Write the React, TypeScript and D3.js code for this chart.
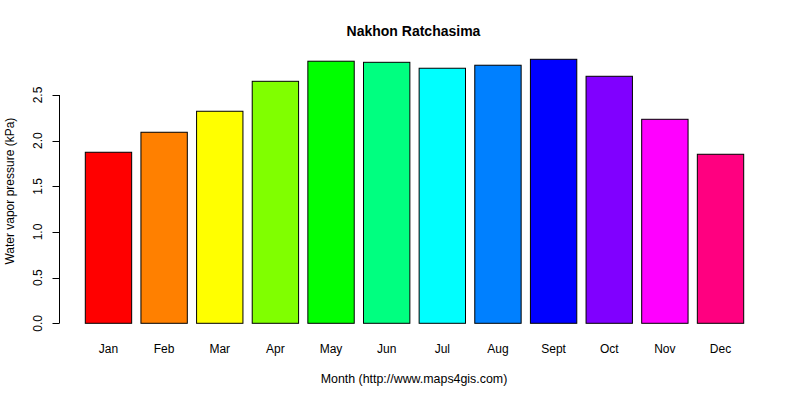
import { useEffect, useRef } from "react";
import * as d3 from "d3";

const months = ["Jan", "Feb", "Mar", "Apr", "May", "Jun", "Jul", "Aug", "Sept", "Oct", "Nov", "Dec"];
const vapor = [1.873, 2.092, 2.322, 2.65, 2.87, 2.858, 2.793, 2.826, 2.891, 2.705, 2.234, 1.851];
const colors = [
  "#FF0000", "#FF8000", "#FFFF00", "#80FF00", "#00FF00", "#00FF80",
  "#00FFFF", "#0080FF", "#0000FF", "#8000FF", "#FF00FF", "#FF0080",
];
const yTicks = [0, 0.5, 1, 1.5, 2, 2.5];

const W = 800;
const H = 400;

export default function App() {
  const ref = useRef<SVGSVGElement | null>(null);

  useEffect(() => {
    const svg = d3.select(ref.current!);
    svg.selectAll("*").remove();

    // R barplot: space 0.2, width 1, usr extended 4%
    const x = d3.scaleLinear().domain([0.2, 14.4]).range([85.3, 743.7]);
    const y = d3.scaleLinear().domain([0, 2.5]).range([323.3, 95]);
    const font = "'Liberation Sans', Arial, sans-serif";

    svg.append("rect").attr("width", W).attr("height", H).attr("fill", "#fff");

    svg
      .append("g")
      .selectAll("rect")
      .data(vapor)
      .join("rect")
      .attr("x", (_, i) => x(0.2 + i * 1.2))
      .attr("width", (_, i) => x(1.2 + i * 1.2) - x(0.2 + i * 1.2))
      .attr("y", (d) => y(d))
      .attr("height", (d) => y(0) - y(d))
      .attr("fill", (_, i) => colors[i])
      .attr("stroke", "#000")
      .attr("stroke-width", 1);

    svg
      .append("g")
      .selectAll("text")
      .data(months)
      .join("text")
      .attr("x", (_, i) => x(0.7 + i * 1.2))
      .attr("y", 353)
      .attr("text-anchor", "middle")
      .style("font", `12px ${font}`)
      .text((d) => d);

    // y axis
    const ax = svg.append("g").attr("stroke", "#000").attr("fill", "none");
    ax.append("line")
      .attr("x1", 59.5).attr("x2", 59.5)
      .attr("y1", y(0)).attr("y2", y(2.5));
    ax.selectAll("line.t")
      .data(yTicks)
      .join("line")
      .attr("class", "t")
      .attr("x1", 52.5).attr("x2", 59.5)
      .attr("y1", (d) => Math.round(y(d)) + 0.5)
      .attr("y2", (d) => Math.round(y(d)) + 0.5);

    svg
      .append("g")
      .selectAll("text")
      .data(yTicks)
      .join("text")
      .attr("transform", (d) => `translate(41.5,${y(d)}) rotate(-90)`)
      .attr("text-anchor", "middle")
      .style("font", `12px ${font}`)
      .text((d) => d3.format(".1f")(d));

    svg
      .append("text")
      .attr("transform", `translate(13.5,${(y(0) + y(2.5)) / 2 - 18}) rotate(-90)`)
      .attr("text-anchor", "middle")
      .style("font", `12px ${font}`)
      .text("Water vapor pressure (kPa)");

    svg
      .append("text")
      .attr("x", 414)
      .attr("y", 382.5)
      .attr("text-anchor", "middle")
      .style("font", `12.4px ${font}`)
      .text("Month (http://www.maps4gis.com)");

    svg
      .append("text")
      .attr("x", 413.5)
      .attr("y", 35.5)
      .attr("text-anchor", "middle")
      .style("font", `bold 14px ${font}`)
      .text("Nakhon Ratchasima");
  }, []);

  return (
    <svg
      ref={ref}
      width={W}
      height={H}
      style={{ position: "absolute", left: 0, top: 0, display: "block" }}
    />
  );
}
